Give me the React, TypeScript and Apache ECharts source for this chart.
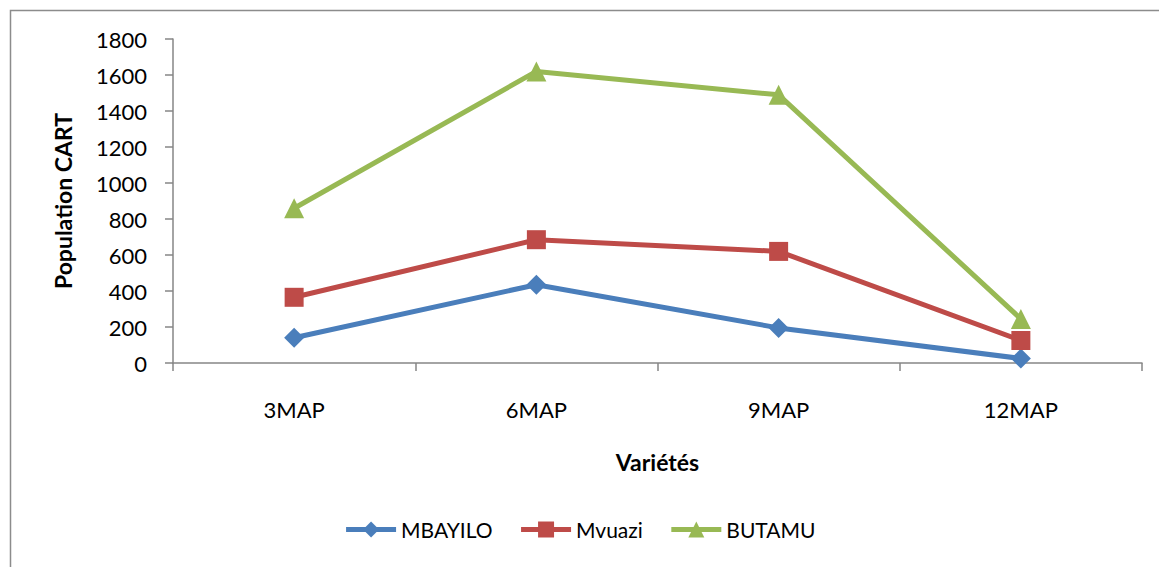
import React, { useEffect, useRef } from "react";
import * as echarts from "echarts";

const categories = ["3MAP", "6MAP", "9MAP", "12MAP"];
const mbayilo = [140, 435, 195, 25];
const mvuazi = [365, 685, 620, 125];
const butamu = [860, 1620, 1490, 245];
const seriesNames = ["MBAYILO", "Mvuazi", "BUTAMU"];
const colors = ["#4A7EBB", "#BE4B48", "#98B954"];

export default function App() {
  const ref = useRef<HTMLDivElement>(null);
  useEffect(() => {
    document.body.style.margin = "0";
    const chart = echarts.init(ref.current!, undefined, { renderer: "svg" });
    const font = "Lato, 'Open Sans', sans-serif";
    const axisColor = "#868686";
    const mk = (name: string, data: number[], color: string, symbol: string, size: number) => ({
      name,
      type: "line",
      data,
      symbol,
      symbolSize: size,
      itemStyle: { color },
      lineStyle: { color, width: 5 },
      z: 3,
    });
    chart.setOption({
      animation: false,
      textStyle: { fontFamily: font },
      graphic: [
        {
          type: "rect",
          shape: { x: 10.5, y: 10.5, width: 1300, height: 800 },
          style: { fill: "none", stroke: "#8c8c8c", lineWidth: 1.5 },
          silent: true,
        },
      ],
      grid: { left: 173, right: 17, top: 39, bottom: 567 - 363, containLabel: false },
      legend: {
        bottom: 22,
        left: "center",
        itemWidth: 50,
        itemHeight: 20,
        itemGap: 26,
        lineStyle: { width: 5 },
        textStyle: { fontFamily: font, fontSize: 21, color: "#000" },
        data: seriesNames,
      },
      xAxis: {
        type: "category",
        data: categories,
        boundaryGap: true,
        name: "Variétés",
        nameLocation: "middle",
        nameGap: 87,
        nameTextStyle: { fontFamily: font, fontSize: 23, fontWeight: "bold", color: "#000" },
        axisLine: { lineStyle: { color: axisColor, width: 1.5 } },
        axisTick: { show: true, length: 8, alignWithLabel: false, lineStyle: { color: axisColor, width: 1.5 } },
        axisLabel: { margin: 35, fontSize: 22, color: "#000", fontFamily: font },
        splitLine: { show: false },
      },
      yAxis: {
        type: "value",
        min: 0,
        max: 1800,
        interval: 200,
        name: "Population CART",
        nameLocation: "middle",
        nameGap: 99,
        nameRotate: 90,
        nameTextStyle: { fontFamily: font, fontSize: 23, fontWeight: "bold", color: "#000" },
        axisLine: { show: true, lineStyle: { color: axisColor, width: 1.5 } },
        axisTick: { show: true, length: 8, lineStyle: { color: axisColor, width: 1.5 } },
        axisLabel: {
          margin: 26,
          fontSize: 22,
          color: "#000",
          fontFamily: font,
          formatter: (v: number) => String(v),
        },
        splitLine: { show: false },
      },
      series: [
        mk(seriesNames[0], mbayilo, colors[0], "diamond", 20),
        mk(seriesNames[1], mvuazi, colors[1], "rect", 19),
        mk(seriesNames[2], butamu, colors[2], "triangle", 20),
      ],
    });
    return () => chart.dispose();
  }, []);
  return <div ref={ref} style={{ width: 1159, height: 567 }} />;
}
